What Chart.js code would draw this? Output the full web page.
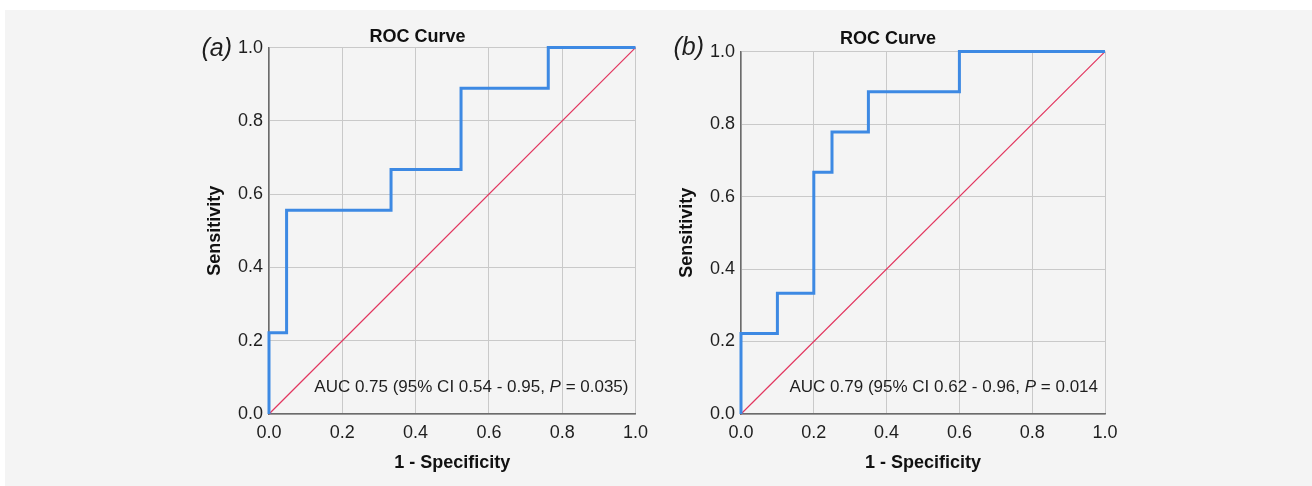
<!DOCTYPE html>
<html>
<head>
<meta charset="utf-8">
<script src="https://cdn.jsdelivr.net/npm/chart.js@4.4.1/dist/chart.umd.min.js"></script>
<style>
  html, body { margin: 0; padding: 0; background: #ffffff; width: 1312px; height: 486px; overflow: hidden; }
  #bg { position: absolute; left: 5px; top: 10px; width: 1307px; height: 476px; background: #f4f4f4; }
  .wrap { position: absolute; top: 0; width: 656px; height: 486px; }
  #wa { left: 0; }
  #wb { left: 656px; }
</style>
</head>
<body>
<div id="bg"></div>
<div class="wrap" id="wa"><canvas id="ca" width="656" height="486"></canvas></div>
<div class="wrap" id="wb"><canvas id="cb" width="656" height="486"></canvas></div>
<script>
// ---- data ----
const panelLabels = ['(a)', '(b)'];
const chartTitle = 'ROC Curve';
const xAxisTitle = '1 - Specificity';
const yAxisTitle = 'Sensitivity';
const tickLabels = ['0.0', '0.2', '0.4', '0.6', '0.8', '1.0'];

// Panel (a) ROC coordinates
const fprA = [0, 0, 0.048, 0.048, 0.333, 0.333, 0.524, 0.524, 0.762, 0.762, 1];
const tprA = [0, 0.222, 0.222, 0.556, 0.556, 0.667, 0.667, 0.889, 0.889, 1, 1];
// Panel (b) ROC coordinates
const fprB = [0, 0, 0.1, 0.1, 0.2, 0.2, 0.25, 0.25, 0.35, 0.35, 0.6, 0.6, 1];
const tprB = [0, 0.222, 0.222, 0.333, 0.333, 0.667, 0.667, 0.778, 0.778, 0.889, 0.889, 1, 1];
// Reference diagonal
const refX = [0, 1];
const refY = [0, 1];

// Annotation texts: [text, italic]
const aucTextA = [['AUC 0.75 (95% CI 0.54 - 0.95, ', false], ['P', true], [' = 0.035)', false]];
const aucTextB = [['AUC 0.79 (95% CI 0.62 - 0.96, ', false], ['P', true], [' = 0.014', false]];

const FONT = "'Liberation Sans', Arial, Helvetica, sans-serif";
Chart.defaults.font.family = FONT;
Chart.defaults.color = '#1e1e1e';

function pts(xs, ys) { return xs.map((x, i) => ({ x: x, y: ys[i] })); }

const annotPlugin = {
  id: 'annot',
  afterDatasetsDraw(chart, args, opts) {
    const ctx = chart.ctx;
    const ca = chart.chartArea;
    ctx.save();
    // panel label
    ctx.font = 'italic 25px ' + FONT;
    ctx.fillStyle = '#1e1e1e';
    ctx.textAlign = 'right';
    ctx.textBaseline = 'middle';
    ctx.fillText(opts.label, ca.left - 37, opts.labelY);
    // AUC text, right aligned
    const size = 17;
    const parts = opts.auc;
    let total = 0;
    const widths = parts.map(p => {
      ctx.font = (p[1] ? 'italic ' : '') + size + 'px ' + FONT;
      const w = ctx.measureText(p[0]).width;
      total += w;
      return w;
    });
    let x = ca.right - 7 - total;
    const y = ca.bottom - 27;
    ctx.textAlign = 'left';
    parts.forEach((p, i) => {
      ctx.font = (p[1] ? 'italic ' : '') + size + 'px ' + FONT;
      ctx.fillText(p[0], x, y);
      x += widths[i];
    });
    ctx.restore();
  }
};

function makeChart(id, xs, ys, label, labelY, auc, pad, titlePadBottom) {
  return new Chart(document.getElementById(id), {
    type: 'scatter',
    data: {
      datasets: [
        {
          data: pts(xs, ys),
          showLine: true,
          borderColor: '#3d89e3',
          borderWidth: 3,
          pointRadius: 0,
          fill: false,
          tension: 0,
          clip: false,
          order: 0
        },
        {
          data: pts(refX, refY),
          showLine: true,
          borderColor: '#e2365f',
          borderWidth: 1.2,
          pointRadius: 0,
          fill: false,
          clip: false,
          order: 1
        }
      ]
    },
    options: {
      responsive: false,
      animation: false,
      events: [],
      layout: { padding: pad },
      plugins: {
        legend: { display: false },
        tooltip: { enabled: false },
        title: {
          display: true,
          text: chartTitle,
          color: '#111',
          font: { size: 18, weight: 'bold', lineHeight: 1.2 },
          padding: { top: 0, bottom: titlePadBottom }
        },
        annot: { label: label, labelY: labelY, auc: auc }
      },
      scales: {
        x: {
          type: 'linear',
          min: 0, max: 1,
          afterFit: s => { s.height = 60; },
          ticks: {
            stepSize: 0.2,
            padding: 8,
            maxRotation: 0,
            font: { size: 18 },
            color: '#1e1e1e',
            callback: (v, i) => tickLabels[i]
          },
          grid: { color: '#c9c9c9', lineWidth: 1, drawTicks: false },
          border: { display: true, color: '#6b6b6b', width: 1.5 },
          title: {
            display: true, text: xAxisTitle, color: '#111',
            font: { size: 18, weight: 'bold', lineHeight: 1.2 },
            padding: { top: 0, bottom: 0 }
          }
        },
        y: {
          type: 'linear',
          min: 0, max: 1,
          afterFit: s => { s.width = 70; },
          ticks: {
            stepSize: 0.2,
            padding: 6,
            font: { size: 18 },
            color: '#1e1e1e',
            callback: (v, i) => tickLabels[i]
          },
          grid: { color: '#c9c9c9', lineWidth: 1, drawTicks: false },
          border: { display: true, color: '#6b6b6b', width: 1.5 },
          title: {
            display: true, text: yAxisTitle, color: '#111',
            font: { size: 18, weight: 'bold', lineHeight: 1.2 },
            padding: { top: 5, bottom: 0 }
          }
        }
      }
    },
    plugins: [annotPlugin]
  });
}

makeChart('ca', fprA, tprA, panelLabels[0], 49, aucTextA, { left: 199, right: 20, top: 26, bottom: 12 }, 0);
makeChart('cb', fprB, tprB, panelLabels[1], 48, aucTextB, { left: 15, right: 207, top: 28, bottom: 12 }, 2);
</script>
</body>
</html>
